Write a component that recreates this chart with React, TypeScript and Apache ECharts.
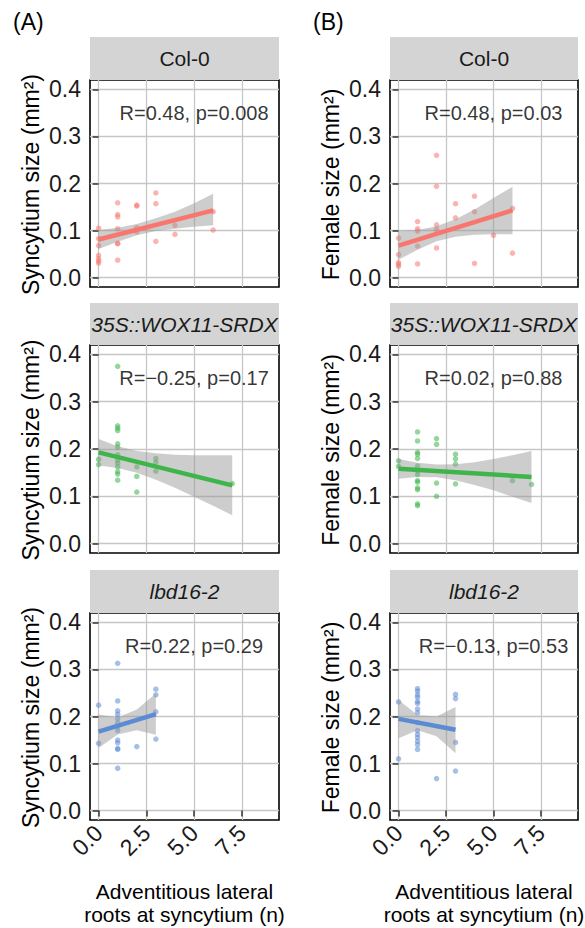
import React, { useEffect, useRef } from 'react';
import * as echarts from 'echarts';

const FONT = '"Liberation Sans", Arial, Helvetica, sans-serif';

// ---- values ----
const xTicks = [0, 2.5, 5, 7.5];
const yTicks = [0, 0.1, 0.2, 0.3, 0.4];
const genotypes = ['Col-0', '35S::WOX11-SRDX', 'lbd16-2'];
const genotypeItalic = [false, true, true];
const genotypeColors = ['#F8766D', '#3DB54A', '#5B8BD3'];
const panelLetters = ['(A)', '(B)'];
const yTitles = ['Syncytium size (mm²)', 'Female size (mm²)'];
const xTitle = 'Adventitious lateral\nroots at syncytium (n)';

// points [roots, size]
const syncytiumCol0: [number, number][] = [
  [0, 0.105], [0, 0.083], [0, 0.068], [0, 0.047], [0, 0.04], [0, 0.035], [0, 0.031],
  [1, 0.159], [1, 0.134], [1, 0.129], [1, 0.104], [1, 0.073], [1, 0.072], [1, 0.037],
  [2, 0.154], [2, 0.152], [2, 0.106], [2, 0.097],
  [3, 0.18], [3, 0.157], [3, 0.077],
  [4, 0.111], [4, 0.092],
  [6, 0.14], [6, 0.101],
];
const femaleCol0: [number, number][] = [
  [0, 0.084], [0, 0.049], [0, 0.032], [0, 0.028], [0, 0.024],
  [1, 0.119], [1, 0.104], [1, 0.099], [1, 0.067], [1, 0.029],
  [2, 0.26], [2, 0.194], [2, 0.112], [2, 0.102], [2, 0.063],
  [3, 0.157], [3, 0.127],
  [4, 0.173], [4, 0.14], [4, 0.03],
  [5, 0.09],
  [6, 0.147], [6, 0.052],
];
const syncytiumWox: [number, number][] = [
  [0, 0.178], [0, 0.167],
  [1, 0.375], [1, 0.249], [1, 0.244], [1, 0.239], [1, 0.211], [1, 0.204], [1, 0.188],
  [1, 0.176], [1, 0.17], [1, 0.162], [1, 0.152], [1, 0.147], [1, 0.134],
  [2, 0.162], [2, 0.142], [2, 0.109],
  [3, 0.18], [3, 0.172], [3, 0.153],
  [7, 0.127],
];
const femaleWox: [number, number][] = [
  [0, 0.175], [0, 0.163],
  [1, 0.236], [1, 0.217], [1, 0.193], [1, 0.189], [1, 0.18], [1, 0.164], [1, 0.154],
  [1, 0.146], [1, 0.133], [1, 0.13], [1, 0.118], [1, 0.114], [1, 0.084], [1, 0.08],
  [2, 0.222], [2, 0.21], [2, 0.128], [2, 0.1],
  [3, 0.189], [3, 0.179], [3, 0.168], [3, 0.126],
  [6, 0.133],
  [7, 0.125],
];
const syncytiumLbd: [number, number][] = [
  [0, 0.224], [0, 0.143],
  [1, 0.313], [1, 0.233], [1, 0.212], [1, 0.205], [1, 0.196], [1, 0.187], [1, 0.178],
  [1, 0.17], [1, 0.15], [1, 0.144], [1, 0.132], [1, 0.13], [1, 0.09],
  [2, 0.136],
  [3, 0.258], [3, 0.246], [3, 0.21], [3, 0.152],
];
const femaleLbd: [number, number][] = [
  [0, 0.231], [0, 0.11],
  [1, 0.259], [1, 0.254], [1, 0.246], [1, 0.241], [1, 0.232], [1, 0.228], [1, 0.216],
  [1, 0.208], [1, 0.187], [1, 0.17], [1, 0.162], [1, 0.155], [1, 0.147], [1, 0.14], [1, 0.13],
  [2, 0.068],
  [3, 0.247], [3, 0.238], [3, 0.145], [3, 0.084],
];

// fitted lines (end points) and 95% bands [roots, lower, upper]
const fitSyncytiumCol0 = [[0, 0.081], [6, 0.143]];
const bandSyncytiumCol0 = [
  [0, 0.061, 0.101], [1, 0.076, 0.106], [2, 0.09, 0.114], [3, 0.099, 0.126],
  [4, 0.104, 0.14], [5, 0.108, 0.158], [6, 0.111, 0.178],
];
const fitFemaleCol0 = [[0, 0.068], [6, 0.143]];
const bandFemaleCol0 = [
  [0, 0.038, 0.099], [1, 0.059, 0.101], [2, 0.077, 0.109], [3, 0.087, 0.124],
  [4, 0.091, 0.145], [5, 0.092, 0.169], [6, 0.092, 0.193],
];
const fitSyncytiumWox = [[0, 0.193], [7, 0.123]];
const bandSyncytiumWox = [
  [0, 0.165, 0.221], [1, 0.16, 0.206], [2, 0.15, 0.196], [3, 0.135, 0.191],
  [4, 0.118, 0.188], [5, 0.099, 0.187], [6, 0.08, 0.187], [7, 0.06, 0.187],
];
const fitFemaleWox = [[0, 0.158], [7, 0.141]];
const bandFemaleWox = [
  [0, 0.137, 0.179], [1, 0.141, 0.171], [2, 0.14, 0.167], [3, 0.134, 0.168],
  [4, 0.124, 0.172], [5, 0.113, 0.179], [6, 0.099, 0.187], [7, 0.086, 0.196],
];
const fitSyncytiumLbd = [[0, 0.168], [3, 0.205]];
const bandSyncytiumLbd = [
  [0, 0.133, 0.204], [1, 0.162, 0.198], [2, 0.171, 0.215], [3, 0.161, 0.249],
];
const fitFemaleLbd = [[0, 0.195], [3, 0.172]];
const bandFemaleLbd = [
  [0, 0.154, 0.235], [1, 0.171, 0.203], [2, 0.158, 0.2], [3, 0.122, 0.22],
];

// [column][row]
const panelPoints = [
  [syncytiumCol0, syncytiumWox, syncytiumLbd],
  [femaleCol0, femaleWox, femaleLbd],
];
const panelFits = [
  [fitSyncytiumCol0, fitSyncytiumWox, fitSyncytiumLbd],
  [fitFemaleCol0, fitFemaleWox, fitFemaleLbd],
];
const panelBands = [
  [bandSyncytiumCol0, bandSyncytiumWox, bandSyncytiumLbd],
  [bandFemaleCol0, bandFemaleWox, bandFemaleLbd],
];
const corLabels = [
  ['R=0.48, p=0.008', 'R=\u22120.25, p=0.17', 'R=0.22, p=0.29'],
  ['R=0.48, p=0.03', 'R=0.02, p=0.88', 'R=\u22120.13, p=0.53'],
];
const corLabelPos: [number, number] = [5, 0.35];

// ---- layout ----
const colLeft = [90, 390];
const colWidth = [189, 188];
const rowTop = [80, 345, 613];
const rowHeight = [207, 208, 207];
const stripHeight = [43, 42, 43];
const xRange = [-0.45, 9.45];
const yRange = [-0.02, 0.42];

export default function App() {
  const ref = useRef<HTMLDivElement>(null);
  useEffect(() => {
    if (!ref.current) return;
    const chart = echarts.init(ref.current, undefined, { renderer: 'svg' });
    const grids: any[] = [];
    const xAxes: any[] = [];
    const yAxes: any[] = [];
    const series: any[] = [];
    const graphics: any[] = [];

    for (let c = 0; c < 2; c++) {
      for (let r = 0; r < 3; r++) {
        const idx = c * 3 + r;
        const bottom = r === 2;
        const color = genotypeColors[r];
        grids.push({
          left: colLeft[c], top: rowTop[r], width: colWidth[c], height: rowHeight[r],
          show: true, borderColor: '#000', borderWidth: 1.6, backgroundColor: '#fff',
        });
        xAxes.push({
          type: 'value', gridIndex: idx, min: xRange[0], max: xRange[1],
          axisLine: { show: false },
          axisTick: { show: bottom, customValues: xTicks, length: 6, lineStyle: { color: '#333', width: 1.5 } },
          axisLabel: {
            show: bottom, customValues: xTicks, rotate: 45, margin: 9,
            formatter: (v: number) => v.toFixed(1),
            fontSize: 23, color: '#1a1a1a', fontFamily: FONT,
          },
          splitLine: { show: true, lineStyle: { color: '#C6C6C6', width: 1.3 } },
        });
        yAxes.push({
          type: 'value', gridIndex: idx, min: yRange[0], max: yRange[1],
          axisLine: { show: false },
          axisTick: { show: true, customValues: yTicks, length: 6, lineStyle: { color: '#333', width: 1.5 } },
          axisLabel: {
            show: true, customValues: yTicks, margin: 9,
            formatter: (v: number) => v.toFixed(1),
            fontSize: 23, color: '#1a1a1a', fontFamily: FONT,
          },
          splitLine: { show: true, lineStyle: { color: '#C6C6C6', width: 1.3 } },
        });
        const band = panelBands[c][r];
        series.push({
          type: 'scatter', xAxisIndex: idx, yAxisIndex: idx, data: panelPoints[c][r], symbolSize: 5.5,
          itemStyle: { color, opacity: 0.55 }, z: 2, silent: true,
        });
        series.push({
          type: 'custom', xAxisIndex: idx, yAxisIndex: idx, data: [[band[0][0], band[0][1]]], z: 3, silent: true,
          renderItem: (_p: any, api: any) => {
            const upper = band.map((b) => api.coord([b[0], b[2]]));
            const lower = band.slice().reverse().map((b) => api.coord([b[0], b[1]]));
            return {
              type: 'polygon',
              shape: { points: upper.concat(lower) },
              style: { fill: 'rgba(150,150,150,0.48)' },
            };
          },
        });
        series.push({
          type: 'line', xAxisIndex: idx, yAxisIndex: idx, data: panelFits[c][r], symbol: 'none',
          lineStyle: { color, width: 4.5 }, z: 4, silent: true,
        });
        series.push({
          type: 'scatter', xAxisIndex: idx, yAxisIndex: idx, data: [corLabelPos], symbolSize: 1,
          itemStyle: { color: 'transparent' }, z: 5, silent: true,
          label: {
            show: true, position: 'inside', formatter: corLabels[c][r],
            fontSize: 20, color: '#000', fontFamily: FONT,
          },
        });
        // facet strip
        graphics.push({
          type: 'rect',
          shape: { x: colLeft[c], y: rowTop[r] - stripHeight[r], width: colWidth[c], height: stripHeight[r] },
          style: { fill: '#D4D4D4' }, silent: true,
        });
        graphics.push({
          type: 'text', x: colLeft[c] + colWidth[c] / 2, y: rowTop[r] - stripHeight[r] / 2,
          style: {
            text: genotypes[r], fontSize: 21, fontFamily: FONT, fill: '#1a1a1a',
            fontStyle: genotypeItalic[r] ? 'italic' : 'normal',
            textAlign: 'center', textVerticalAlign: 'middle',
          },
          silent: true,
        });
        // y-axis title
        graphics.push({
          type: 'text', x: colLeft[c] - 59, y: rowTop[r] + rowHeight[r] / 2 + 1, rotation: Math.PI / 2,
          style: {
            text: yTitles[c], fontSize: 23, fontFamily: FONT, fill: '#000',
            textAlign: 'center', textVerticalAlign: 'middle',
          },
          silent: true,
        });
      }
      graphics.push({
        type: 'text', x: colLeft[c] + colWidth[c] / 2, y: 903,
        style: {
          text: xTitle, fontSize: 21, lineHeight: 23, fontFamily: FONT, fill: '#000',
          textAlign: 'center', textVerticalAlign: 'middle',
        },
        silent: true,
      });
      graphics.push({
        type: 'text', x: colLeft[c] - 77, y: 22,
        style: {
          text: panelLetters[c], fontSize: 23, fontFamily: FONT, fill: '#000',
          textAlign: 'left', textVerticalAlign: 'middle',
        },
        silent: true,
      });
    }

    chart.setOption({
      animation: false,
      backgroundColor: '#fff',
      textStyle: { fontFamily: FONT },
      grid: grids,
      xAxis: xAxes,
      yAxis: yAxes,
      series,
      graphic: graphics,
    });
    return () => chart.dispose();
  }, []);
  return <div ref={ref} style={{ position: 'absolute', left: 0, top: 0, width: 585, height: 928 }} />;
}
